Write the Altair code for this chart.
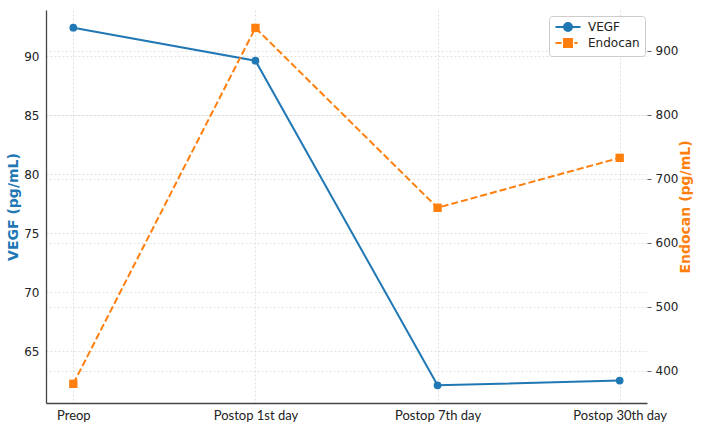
import altair as alt
import pandas as pd

# Time points and measured concentrations
stages = ["Preop", "Postop 1st day", "Postop 7th day", "Postop 30th day"]
vegf = [92.4, 89.6, 62.1, 62.5]          # pg/mL, left axis
endocan = [380, 936, 655, 733]           # pg/mL, right axis
series_names = ["VEGF", "Endocan"]
series_colors = ["#1f77b4", "#ff7f0e"]

vegf_df = pd.DataFrame({"stage": stages, "value": vegf})
endo_df = pd.DataFrame({"stage": stages, "value": endocan})
legend_df = pd.DataFrame({"stage": [stages[0]] * 2, "value": [vegf[0]] * 2,
                          "series": series_names})

# Legend glyphs: a line with a marker in the middle
vegf_glyph = "M-2.5,0H2.5M-0.8,0A0.8,0.8 0 1,0 0.8,0A0.8,0.8 0 1,0 -0.8,0Z"
endo_glyph = "M-2.5,0H-1.3M-0.8,-0.8H0.8V0.8H-0.8ZM1.3,0H1.9"

grid_style = dict(grid=True, gridDash=[2, 2], gridColor="#d9d9d9", gridWidth=0.8)

x_enc = alt.X("stage:O", sort=stages, title=None,
              scale=alt.Scale(type="point", padding=0.15),
              axis=alt.Axis(labelAngle=0, labelFont="Lato", labelFontSize=13,
                            labelColor="#222", ticks=False, domainColor="#444",
                            domainWidth=1.3, labelPadding=6, **grid_style))

vegf_y = alt.Y("value:Q", title="VEGF (pg/mL)",
               scale=alt.Scale(domain=[60.6, 93.9], nice=False, zero=False),
               axis=alt.Axis(values=[65, 70, 75, 80, 85, 90], ticks=False,
                             domainColor="#444", domainWidth=1.3,
                             titleColor=series_colors[0], titleFontWeight="bold",
                             titleFontSize=14, titleFont="DejaVu Sans",
                             labelFont="DejaVu Sans", labelFontSize=12,
                             labelColor="#222", labelPadding=7, titlePadding=3,
                             **grid_style))

endo_y = alt.Y("value:Q", title="Endocan (pg/mL)",
               scale=alt.Scale(domain=[350, 964], nice=False, zero=False),
               axis=alt.Axis(orient="right", values=[400, 500, 600, 700, 800, 900],
                             domain=False, tickSize=4, tickColor="#666",
                             titleColor=series_colors[1], titleFontWeight="bold",
                             titleFontSize=14, titleFont="DejaVu Sans", titleAngle=270,
                             titleBaseline="top",
                             labelFont="DejaVu Sans", labelFontSize=12,
                             labelColor="#222", labelPadding=4, titlePadding=1,
                             **grid_style))

vegf_line = alt.Chart(vegf_df).mark_line(color=series_colors[0], strokeWidth=2).encode(
    x=x_enc, y=vegf_y)
vegf_pts = alt.Chart(vegf_df).mark_point(color=series_colors[0], filled=True,
                                         opacity=1, size=60, shape="circle").encode(
    x=x_enc, y=vegf_y)

legend = alt.Legend(title=None, orient="none", legendX=503, legendY=6,
                    symbolSize=100, symbolOffset=8, labelOffset=14,
                    symbolStrokeWidth=2, symbolOpacity=1,
                    labelFont="DejaVu Sans", labelFontSize=12, labelColor="#222",
                    rowPadding=0, padding=5, strokeColor="#cccccc",
                    fillColor="white", cornerRadius=3)

legend_layer = alt.Chart(legend_df).mark_point(filled=False, opacity=0).encode(
    x=x_enc, y=vegf_y,
    color=alt.Color("series:N", scale=alt.Scale(domain=series_names, range=series_colors),
                    legend=legend),
    fill=alt.Fill("series:N", scale=alt.Scale(domain=series_names, range=series_colors),
                  legend=legend),
    shape=alt.Shape("series:N", scale=alt.Scale(domain=series_names,
                                                 range=[vegf_glyph, endo_glyph]),
                    legend=legend),
)

endo_line = alt.Chart(endo_df).mark_line(color=series_colors[1], strokeWidth=2,
                                         strokeDash=[7, 3]).encode(x=x_enc, y=endo_y)
endo_pts = alt.Chart(endo_df).mark_point(color=series_colors[1], filled=True,
                                         opacity=1, size=70, shape="square").encode(
    x=x_enc, y=endo_y)

chart = alt.layer(
    alt.layer(vegf_line, vegf_pts, legend_layer),
    alt.layer(endo_line, endo_pts),
).resolve_scale(y="independent").properties(
    width=601, height=393,
    autosize=alt.AutoSizeParams(type="none"),
    padding={"left": 46, "top": 10, "right": 56, "bottom": 26},
).configure(background="white").configure_view(stroke=None)

chart.save("out.html", embed_options={"renderer": "svg", "actions": False})
